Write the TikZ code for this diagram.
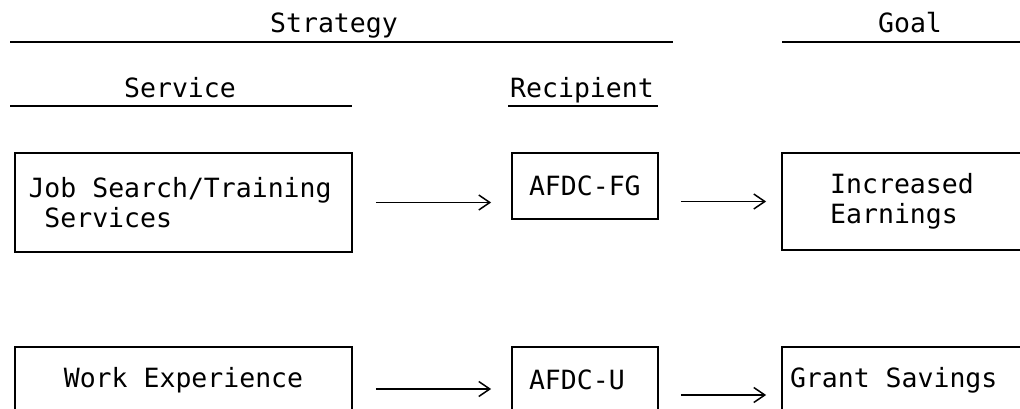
\documentclass[tikz,border=0pt]{standalone}
\usepackage{fontspec}
\setmonofont[WordSpace={1,0,0}]{DejaVu Sans Mono}
\usetikzlibrary{arrows.meta}

\begin{document}
\begin{tikzpicture}[x=1pt, y=1pt,
        >={Straight Barb[length=11pt, width=15pt]},
        lbl/.style={font=\fontsize{26.5}{30}\selectfont\ttfamily},
        box/.style={lbl, draw, line width=1.8pt, inner sep=0pt,
            execute at begin node={\spaceskip=0pt\xspaceskip=0pt}},
        rule/.style={line width=1.8pt},
        flow/.style={->, line width=1.5pt}]

        \useasboundingbox (0,0) rectangle (1020,-409);
        \clip (0,0) rectangle (1020,-409);

        % headings
        \node[lbl, anchor=base] (strat) at (334,-33) {Strategy};
        \node[lbl, anchor=base] (goal) at (910,-33) {Goal};
        \node[lbl, anchor=base] (serv) at (180,-98) {Service};
        \node[lbl, anchor=base] (recip) at (582,-98) {Recipient};

        % rules under the headings
        \draw[rule] (10,-42) -- (673,-42);
        \draw[rule] (782,-42) -- (1030,-42);
        \draw[rule] (10,-106) -- (352,-106);
        \draw[rule] (508,-106) -- (658,-106);

        % boxes, first row
        \node[box, minimum width=337, minimum height=99, text width=310, align=left] (job) at (183.5,-202.5)
            {Job Search/Training\\\hspace*{0.6em}Services};
        \node[box, minimum width=146, minimum height=66, text width=112, align=left] (fg) at (585,-186) {AFDC-FG};
        \node[box, minimum width=240, minimum height=97, align=left] (earn) at (902,-201.5)
            {Increased\\Earnings};

        % boxes, second row
        \node[box, minimum width=337, minimum height=66] (work) at (183.5,-380) {Work Experience};
        \node[box, minimum width=146, minimum height=66, text width=112, align=left] (u) at (585,-380) {AFDC-U};
        \node[box, minimum width=240, minimum height=66, text width=224, align=left] (grant) at (902,-380) {Grant Savings};

        % arrows
        \draw[flow, shorten <=23pt, shorten >=20pt] (job) -- (job -| fg.west);
        \draw[flow, shorten <=22pt, shorten >=15pt] (fg.east |- earn) -- (earn);
        \draw[flow, shorten <=23pt, shorten >=20pt] ([yshift=-9pt]work.east) -- ([yshift=-9pt]work.east -| u.west);
        \draw[flow, shorten <=22pt, shorten >=15pt] ([yshift=-15pt]u.east) -- ([yshift=-15pt]u.east -| grant.west);

\end{tikzpicture}
\end{document}
